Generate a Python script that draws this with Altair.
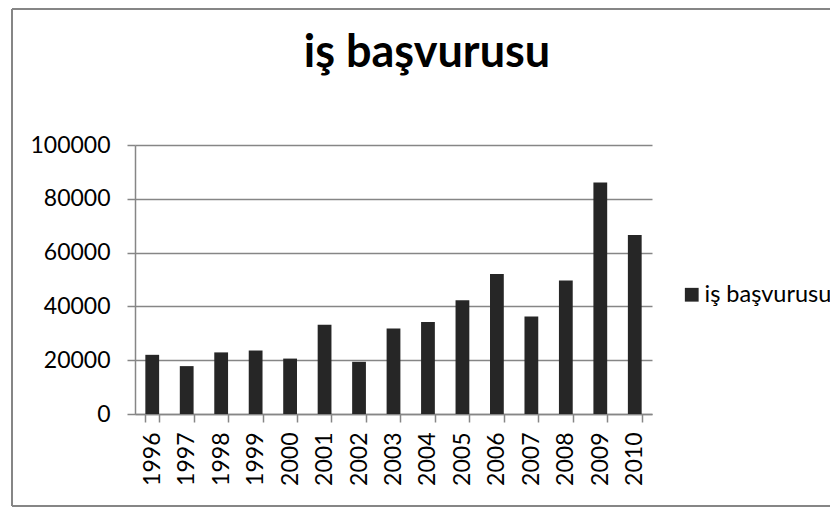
import altair as alt
import pandas as pd

years = ["1996", "1997", "1998", "1999", "2000", "2001", "2002", "2003",
         "2004", "2005", "2006", "2007", "2008", "2009", "2010"]
values = [22000, 17800, 22900, 23600, 20600, 33200, 19400, 31800,
          34200, 42300, 52000, 36200, 49600, 86100, 66500]
series_name = "iş başvurusu"
title_text = "iş başvurusu"
y_ticks = [0, 20000, 40000, 60000, 80000, 100000]

df = pd.DataFrame({"year": years, "value": values, "series": [series_name] * len(years)})

GRAY = "#868686"
FONT = "Lato"
W, H = 517, 269

bars = alt.Chart(df).mark_bar(color="#262626").encode(
    x=alt.X("year:N", sort=years, title=None,
            scale=alt.Scale(paddingInner=0.6, paddingOuter=0.3),
            axis=alt.Axis(labelAngle=-90, labelFont=FONT, labelFontSize=23,
                          labelColor="black", labelPadding=10, tickBand="extent",
                          tickSize=8, tickColor=GRAY, tickWidth=1.5,
                          domainColor=GRAY, domainWidth=1.5, grid=False)),
    y=alt.Y("value:Q", title=None,
            scale=alt.Scale(domain=[0, 100000], nice=False),
            axis=alt.Axis(values=y_ticks, format="d", labelFont=FONT, labelFontSize=23,
                          labelColor="black", labelPadding=17, tickSize=8,
                          tickColor=GRAY, tickWidth=1.5, domainColor=GRAY,
                          domainWidth=1.5, gridColor=GRAY, gridWidth=1.5)),
    color=alt.Color("series:N", scale=alt.Scale(range=["#262626"]),
                    legend=alt.Legend(title=None, orient="none", legendX=545, legendY=138,
                                      symbolType="square", symbolSize=190,
                                      symbolStrokeWidth=0, labelFont=FONT,
                                      labelFontSize=23.5, labelColor="black",
                                      labelOffset=1)),
)

title_layer = alt.Chart(alt.Data(values=[{"t": title_text}])).mark_text(
    font=FONT, fontSize=45, fontWeight="bold", color="black",
    align="center", baseline="alphabetic"
).encode(text="t:N", x=alt.value(292), y=alt.value(-78))

frame_data = alt.Data(values=[{}])
left = alt.Chart(frame_data).mark_rule(color=GRAY, strokeWidth=2).encode(
    x=alt.value(-123), y=alt.value(-136), y2=alt.value(361))
top = alt.Chart(frame_data).mark_rule(color=GRAY, strokeWidth=2).encode(
    x=alt.value(-123), x2=alt.value(720), y=alt.value(-136))
bottom = alt.Chart(frame_data).mark_rule(color=GRAY, strokeWidth=2).encode(
    x=alt.value(-123), x2=alt.value(720), y=alt.value(361))

chart = alt.layer(bars, title_layer, left, top, bottom).properties(
    width=W, height=H,
    autosize=alt.AutoSizeParams(type="none"),
    padding={"left": 127, "top": 137, "right": 178, "bottom": 93},
).configure_view(stroke=None)

chart.save("out.html", embed_options={"renderer": "svg", "actions": False})
